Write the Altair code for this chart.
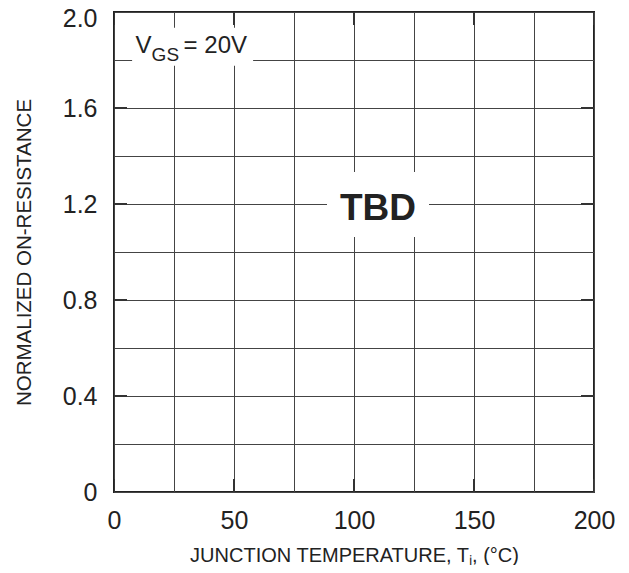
import altair as alt
import pandas as pd

# Axis grid / tick values
x_grid = [0, 25, 50, 75, 100, 125, 150, 175, 200]
x_major = [0, 50, 100, 150, 200]
y_grid = [0, 0.2, 0.4, 0.6, 0.8, 1.0, 1.2, 1.4, 1.6, 1.8, 2.0]
y_major = [0.4, 0.8, 1.2, 1.6]

# Annotations
note_text = ["TBD"]
note_x = [110]
note_y = [1.2]
cond_x = [9]
cond_y = [1.83]

FONT = "Liberation Sans"

xt = pd.DataFrame({"x": x_major * 2, "y": [0] * len(x_major) + [2] * len(x_major)})
yt = pd.DataFrame({"x": [0] * len(y_major) + [200] * len(y_major), "y": y_major * 2})
note_df = pd.DataFrame({"x": note_x, "y": note_y, "t": note_text})
cond_df = pd.DataFrame({"x": cond_x, "y": cond_y})

xscale = alt.Scale(domain=[0, 200], nice=False, zero=False)
yscale = alt.Scale(domain=[0, 2], nice=False, zero=False)

xaxis = alt.Axis(
    values=x_grid, grid=True, gridColor="#444", gridWidth=1, ticks=False, domain=False,
    labelExpr="datum.value % 50 === 0 ? datum.label : ''",
    labelFont=FONT, labelFontSize=25, labelColor="#222", labelPadding=36,
    labelBaseline="alphabetic", labelFlush=False,
    title="JUNCTION TEMPERATURE, Tⱼ, (°C)", titleFont=FONT, titleFontSize=20,
    titleFontWeight="normal", titleColor="#222",
    titleX=240, titleY=69, titleAlign="center", titleBaseline="alphabetic",
)
yaxis = alt.Axis(
    values=y_grid, grid=True, gridColor="#444", gridWidth=1, ticks=False, domain=False,
    labelExpr="round(datum.value*10) % 4 === 0 ? (datum.value === 0 ? '0' : format(datum.value, '.1f')) : ''",
    labelFont=FONT, labelFontSize=25, labelColor="#222", labelPadding=17,
    labelBaseline="middle", labelFlush=False,
    labelOffset={"condition": {"test": "datum.value === 2", "value": 6}, "value": 0},
    title="NORMALIZED ON-RESISTANCE", titleFont=FONT, titleFontSize=20.5,
    titleFontWeight="normal", titleColor="#222",
    titleX=-84, titleY=240, titleAlign="center", titleBaseline="alphabetic", titleAngle=270,
)

xticks = alt.Chart(xt).mark_tick(orient="vertical", size=26, thickness=2, color="#333", clip=True, opacity=1).encode(
    x=alt.X("x:Q", scale=xscale, axis=xaxis),
    y=alt.Y("y:Q", scale=yscale, axis=yaxis),
)
yticks = alt.Chart(yt).mark_tick(orient="horizontal", size=26, thickness=2, color="#333", clip=True, opacity=1).encode(
    x=alt.X("x:Q", scale=xscale),
    y=alt.Y("y:Q", scale=yscale),
)

box_tbd = alt.Chart(note_df).mark_point(
    shape="M-1,-0.637L1,-0.637L1,0.637L-1,0.637Z", size=102 * 102, filled=True,
    fill="white", opacity=1, strokeWidth=0, yOffset=0.5, xOffset=0,
).encode(x=alt.X("x:Q", scale=xscale), y=alt.Y("y:Q", scale=yscale))

txt_tbd = alt.Chart(note_df).mark_text(
    font=FONT, fontSize=37, fontWeight="bold", color="#222", align="center",
    baseline="alphabetic", dy=16,
).encode(x=alt.X("x:Q", scale=xscale), y=alt.Y("y:Q", scale=yscale), text="t:N")

box_cond = alt.Chart(cond_df).mark_point(
    shape="M-1,-0.314L1,-0.314L1,0.314L-1,0.314Z", size=121 * 121, filled=True,
    fill="white", opacity=1, strokeWidth=0, xOffset=57, yOffset=-6,
).encode(x=alt.X("x:Q", scale=xscale), y=alt.Y("y:Q", scale=yscale))

def cond_text(s, size, dx, dy):
    return alt.Chart(cond_df).mark_text(
        text=s, font=FONT, fontSize=size, color="#222", align="left",
        baseline="alphabetic", dx=dx, dy=dy,
    ).encode(x=alt.X("x:Q", scale=xscale), y=alt.Y("y:Q", scale=yscale))

chart = alt.layer(
    xticks, yticks, box_tbd, txt_tbd, box_cond,
    cond_text("V", 24, 0, 0),
    cond_text("GS", 19, 16, 8),
    cond_text("= 20V", 24, 48, 0),
).properties(
    width=480, height=480,
    autosize=alt.AutoSizeParams(type="none"),
    padding={"left": 106, "top": 4, "right": 27, "bottom": 73},
).configure_view(stroke="#222", strokeWidth=2)

chart.save("out.html", embed_options={"renderer": "svg", "actions": False})
